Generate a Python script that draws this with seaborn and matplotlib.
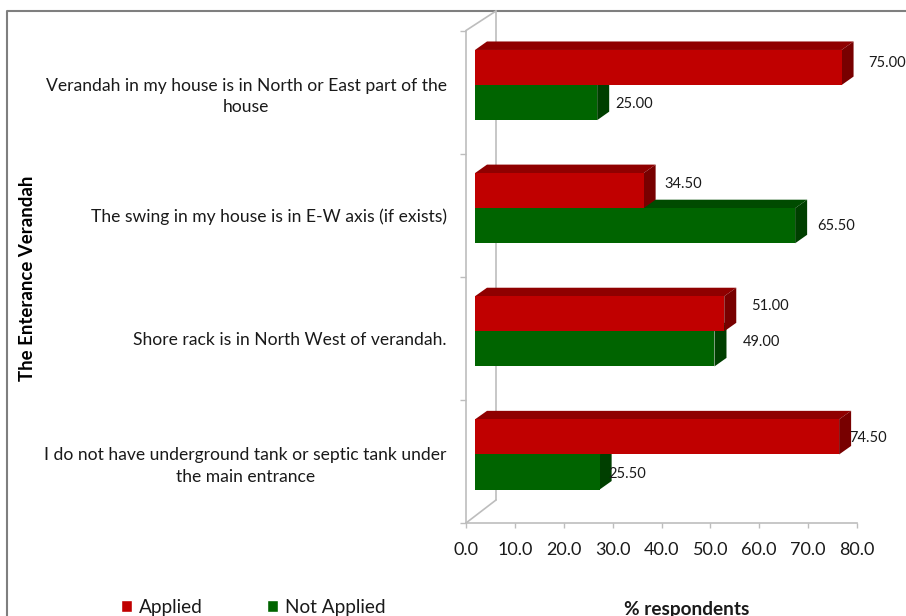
import matplotlib
matplotlib.use("Agg")
import matplotlib.pyplot as plt
import pandas as pd
import seaborn as sns
from matplotlib.lines import Line2D
from matplotlib.patches import Polygon
from matplotlib.transforms import Affine2D

categories = [
    "Verandah in my house is in North or East part of the\nhouse",
    "The swing in my house is in E-W axis (if exists)",
    "Shore rack is in North West of verandah.",
    "I do not have underground tank or septic tank under\nthe main entrance",
]
applied = [75.0, 34.5, 51.0, 74.5]
not_applied = [25.0, 65.5, 49.0, 25.5]
x_ticks = [0, 10, 20, 30, 40, 50, 60, 70, 80]

sns.set_theme(style="white")
plt.rcParams["font.family"] = ["Lato", "DejaVu Sans"]
TEXT = "#1a1a1a"
GREY = "#BDBDBD"
W, H = 906, 616
L, R, T, B = 466, 857, 30.5, 523

fig = plt.figure(figsize=(W / 100, H / 100), dpi=100, facecolor="white")
ax = fig.add_axes([L / W, 1 - B / H, (R - L) / W, (B - T) / H])
ax.patch.set_visible(False)

df = pd.DataFrame({
    "question": categories * 2,
    "series": ["Applied"] * 4 + ["Not Applied"] * 4,
    "value": applied + not_applied,
})
sns.barplot(data=df, y="question", x="value", hue="series", order=categories,
            hue_order=["Applied", "Not Applied"],
            palette={"Applied": "#C00000", "Not Applied": "#006400"},
            orient="h", width=0.57, gap=0, dodge=True, saturation=1, ax=ax)
ax.set_xlim(0, 80)
ax.set_ylim(3.5, -0.5)

# 3-D look of the bars: the front faces sit off the front axis, depth faces behind them
px_x = (R - L) / 80
px_y = (B - T) / 4
shift = ax.transData + Affine2D().translate(9, 7)
dx, dy = 12 / px_x, 8.5 / px_y
styles = [("#8F0000", "#780000", 4), ("#004B00", "#003F00", 3)]
offsets = [
    [(27, 5), (21, 7), (27, 8), (10, -1)],
    [(18, -1), (22, 0), (28, 7), (9, -2)],
]
for container, (top_c, side_c, z), offs in zip(ax.containers, styles, offsets):
    for bar, (ox, oy) in zip(container.patches, offs):
        x0, y0 = bar.get_x(), bar.get_y()
        w, h = bar.get_width(), bar.get_height()
        bar.set_transform(shift)
        bar.set_zorder(z)
        bar.set_edgecolor("none")
        bar.set_clip_on(False)
        ax.add_patch(Polygon([(x0, y0), (x0 + dx, y0 - dy), (x0 + w + dx, y0 - dy), (x0 + w, y0)],
                             closed=True, fc=top_c, ec="none", transform=shift,
                             zorder=z - 0.5, clip_on=False))
        ax.add_patch(Polygon([(x0 + w, y0), (x0 + w + dx, y0 - dy), (x0 + w + dx, y0 + h - dy), (x0 + w, y0 + h)],
                             closed=True, fc=side_c, ec="none", transform=shift,
                             zorder=z - 0.5, clip_on=False))
        ax.annotate(f"{w:.2f}", xy=(x0 + w, y0 + h / 2), xycoords=shift,
                    xytext=(ox, oy), textcoords="offset pixels", ha="left", va="center",
                    fontsize=10.5, color=TEXT, annotation_clip=False, zorder=6)

sns.despine(ax=ax, top=True, right=True)
for s in ("left", "bottom"):
    ax.spines[s].set_color(GREY)
    ax.spines[s].set_linewidth(1.2)
ax.set_xticks(x_ticks)
ax.set_xticklabels([f"{v:.1f}" for v in x_ticks], fontsize=13, color=TEXT)
ax.set_yticks([-0.5, 0.5, 1.5, 2.5, 3.5], minor=True)
ax.tick_params(axis="y", which="major", length=0, pad=14, labelsize=12.6, labelcolor=TEXT)
ax.tick_params(axis="y", which="minor", left=True, length=4.3, width=1, color=GREY)
ax.tick_params(axis="x", which="major", bottom=True, length=3.6, width=1, color=GREY, pad=10)
for lab in ax.get_yticklabels():
    lab.set_multialignment("center")
    lab.set_linespacing(1.45)
ax.set_xlabel("")
ax.set_ylabel("")

# frame and back wall, in figure pixels
page = Affine2D().scale(1 / W, -1 / H).translate(0, 1) + fig.transFigure
def seg(xs, ys, color=GREY, lw=1.2):
    fig.add_artist(Line2D(xs, ys, transform=page, color=color, lw=lw, zorder=-1))
seg([7, 7, W], [H, 11, 11], color="#7F7F7F", lw=1.5)
seg([L, 496], [T, 11])
seg([496, 496], [11, 500])
seg([L, 496], [B, 500])

fig.text(28 / W, 1 - 278 / H, "The Enterance Verandah", rotation=90, ha="center", va="center",
         fontsize=13.4, fontweight="bold", color="black")
fig.text(687 / W, 1 - 609 / H, "% respondents", ha="center", va="center",
         fontsize=13.7, fontweight="bold", color=TEXT)

handles, labels = ax.get_legend_handles_labels()
ax.get_legend().remove()
fig.legend(handles, labels, ncol=2, loc="center left", bbox_to_anchor=(121 / W, 1 - 607 / H),
           frameon=False, fontsize=13.7, handlelength=0.6, handleheight=0.6, handletextpad=0.35,
           columnspacing=3.35, labelcolor=TEXT, borderpad=0, borderaxespad=0)

fig.savefig("out.png", dpi=100)
